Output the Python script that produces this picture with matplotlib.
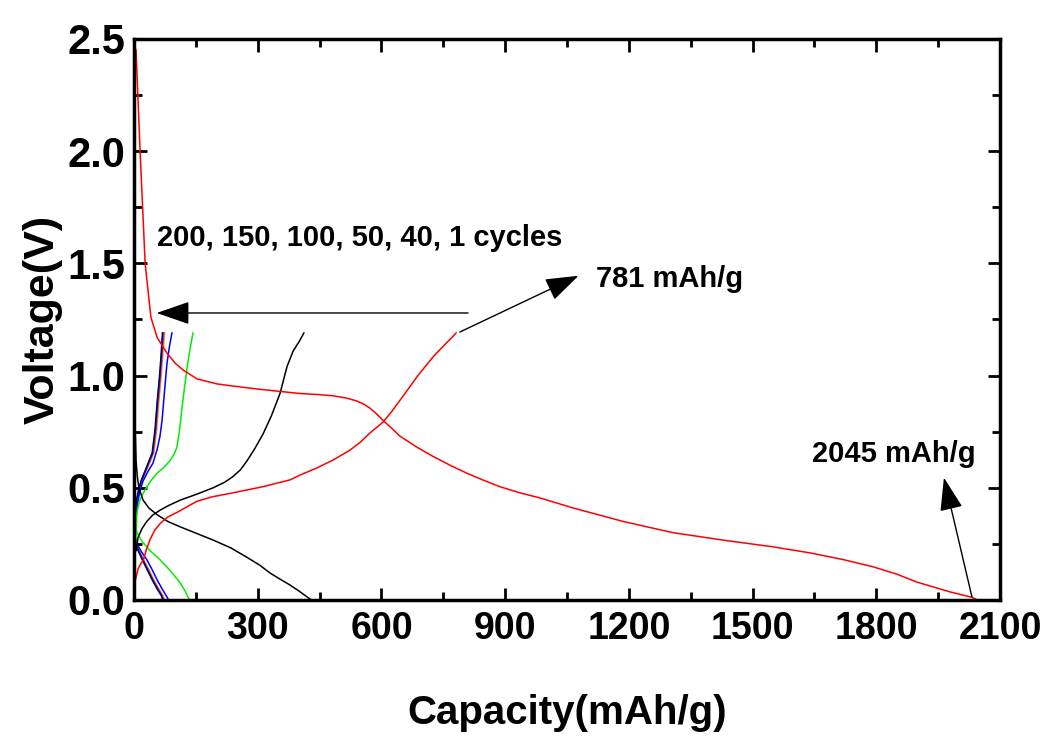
import matplotlib.pyplot as plt
from matplotlib.ticker import MultipleLocator

plt.rcParams["font.family"] = ["Liberation Sans", "DejaVu Sans"]
plt.rcParams["font.weight"] = "bold"

# cycle 1 (red)
c1_dis_x = [0, 5, 15, 27, 41, 56, 80, 100, 119, 153, 201, 233, 300, 403, 450, 483, 515, 540, 558,
            572, 588, 604, 625, 645, 685, 725, 767, 807, 847, 887, 935, 984, 1065, 1186, 1307,
            1428, 1549, 1639, 1720, 1792, 1850, 1898, 1979, 2032, 2045]
c1_dis_y = [2.47, 2.45, 1.99, 1.50, 1.26, 1.17, 1.10, 1.055, 1.025, 0.985, 0.963, 0.955, 0.94,
            0.92, 0.915, 0.91, 0.90, 0.887, 0.872, 0.855, 0.83, 0.80, 0.765, 0.73, 0.682, 0.64,
            0.60, 0.565, 0.534, 0.505, 0.478, 0.455, 0.41, 0.35, 0.30, 0.267, 0.237, 0.21, 0.18,
            0.148, 0.115, 0.08, 0.036, 0.012, 0.0]
c1_chg_x = [2, 5, 10, 16, 23, 30, 39, 50, 63, 82, 104, 128, 153, 190, 233, 273, 313, 345, 378,
            403, 443, 483, 524, 550, 572, 604, 625, 645, 666, 686, 706, 725, 744, 760, 772, 781]
c1_chg_y = [0.08, 0.10, 0.14, 0.16, 0.18, 0.225, 0.27, 0.31, 0.34, 0.37, 0.39, 0.415, 0.44,
            0.46, 0.475, 0.49, 0.505, 0.52, 0.535, 0.557, 0.588, 0.624, 0.668, 0.705, 0.744,
            0.793, 0.84, 0.89, 0.943, 0.994, 1.04, 1.083, 1.12, 1.15, 1.172, 1.19]

# cycle 40 (black)
c40_dis_x = [3, 5, 8, 12, 22, 36, 56, 82, 112, 150, 192, 235, 274, 305, 330, 355, 378, 400, 415, 430]
c40_dis_y = [0.75, 0.62, 0.55, 0.50, 0.445, 0.41, 0.38, 0.35, 0.326, 0.298, 0.267, 0.232, 0.19,
             0.155, 0.12, 0.092, 0.067, 0.04, 0.02, 0.0]
c40_chg_x = [5, 10, 20, 31, 45, 63, 85, 112, 150, 192, 220, 240, 258, 274, 293, 313, 333, 354,
             371, 386, 400, 412]
c40_chg_y = [0.22, 0.28, 0.32, 0.35, 0.378, 0.40, 0.422, 0.445, 0.47, 0.50, 0.525, 0.55, 0.58,
             0.62, 0.675, 0.74, 0.82, 0.92, 1.04, 1.11, 1.15, 1.19]

# cycle 50 (green)
c50_dis_x = [5, 7, 20, 39, 60, 80, 97, 112, 124, 131, 136]
c50_dis_y = [0.32, 0.30, 0.26, 0.22, 0.185, 0.147, 0.11, 0.076, 0.04, 0.013, 0.0]
c50_chg_x = [3, 4, 5, 7, 13, 22, 38, 56, 72, 87, 97, 104, 110, 116, 122, 128, 135, 143]
c50_chg_y = [0.22, 0.26, 0.30, 0.39, 0.44, 0.475, 0.525, 0.565, 0.59, 0.62, 0.65, 0.68, 0.75,
             0.85, 0.94, 1.025, 1.11, 1.19]

# cycle 100 (blue)
c100_dis_x = [3, 7, 18, 31, 44, 56, 68, 80, 84]
c100_dis_y = [0.28, 0.25, 0.215, 0.18, 0.135, 0.09, 0.05, 0.013, 0.0]
c100_chg_x = [2, 5, 10, 16, 22, 33, 46, 56, 63, 68, 74, 80, 86, 92]
c100_chg_y = [0.28, 0.37, 0.445, 0.495, 0.53, 0.57, 0.61, 0.67, 0.73, 0.80, 0.93, 1.055, 1.13, 1.19]

# later cycles (bundle near 70 mAh/g)
c125_dis_x = [2, 8, 23, 36, 48, 60, 70, 74]
c125_dis_y = [0.27, 0.236, 0.18, 0.135, 0.09, 0.05, 0.02, 0.0]
c125_chg_x = [1, 3, 8, 14, 20, 34, 48, 55, 60, 66, 70, 74]
c125_chg_y = [0.25, 0.325, 0.445, 0.50, 0.535, 0.595, 0.655, 0.76, 0.88, 1.0, 1.10, 1.19]

c150_dis_x = [2, 7, 22, 34, 46, 58, 68, 72]
c150_dis_y = [0.27, 0.236, 0.18, 0.135, 0.09, 0.05, 0.02, 0.0]
c150_chg_x = [1, 2, 7, 13, 19, 33, 46, 53, 58, 64, 68, 72]
c150_chg_y = [0.25, 0.325, 0.445, 0.50, 0.535, 0.595, 0.655, 0.76, 0.88, 1.0, 1.10, 1.19]

c175_dis_x = [2, 7, 21, 33, 45, 57, 67, 71]
c175_dis_y = [0.27, 0.236, 0.18, 0.135, 0.09, 0.05, 0.02, 0.0]
c175_chg_x = [1, 2, 7, 13, 19, 32, 45, 52, 57, 63, 67, 70]
c175_chg_y = [0.25, 0.325, 0.445, 0.50, 0.535, 0.595, 0.655, 0.76, 0.88, 1.0, 1.10, 1.19]

c200_dis_x = [2, 6, 20, 32, 44, 56, 66, 70]
c200_dis_y = [0.27, 0.236, 0.18, 0.135, 0.09, 0.05, 0.02, 0.0]
c200_chg_x = [1, 2, 6, 12, 18, 31, 44, 51, 56, 62, 66, 69]
c200_chg_y = [0.25, 0.325, 0.445, 0.50, 0.535, 0.595, 0.655, 0.76, 0.88, 1.0, 1.10, 1.19]

fig = plt.figure(figsize=(10.51, 7.37), dpi=100)
ax = fig.add_axes([0.1275, 0.1859, 0.824, 0.7612])

lw = 1.1
curves = [
    (c125_dis_x, c125_dis_y, c125_chg_x, c125_chg_y, "#ff8c00"),
    (c150_dis_x, c150_dis_y, c150_chg_x, c150_chg_y, "#ff00ff"),
    (c175_dis_x, c175_dis_y, c175_chg_x, c175_chg_y, "#006400"),
    (c200_dis_x, c200_dis_y, c200_chg_x, c200_chg_y, "#000080"),
    (c100_dis_x, c100_dis_y, c100_chg_x, c100_chg_y, "#0000ff"),
    (c50_dis_x, c50_dis_y, c50_chg_x, c50_chg_y, "#00ee00"),
    (c40_dis_x, c40_dis_y, c40_chg_x, c40_chg_y, "#000000"),
    (c1_dis_x, c1_dis_y, c1_chg_x, c1_chg_y, "#ff0000"),
]
for dx, dy, cx, cy, col in curves:
    ax.plot(dx, dy, color=col, lw=lw)
    ax.plot(cx, cy, color=col, lw=lw)

ax.set_xlim(0, 2100)
ax.set_ylim(0, 2.5)
ax.xaxis.set_major_locator(MultipleLocator(300))
ax.xaxis.set_minor_locator(MultipleLocator(150))
ax.yaxis.set_major_locator(MultipleLocator(0.5))
ax.yaxis.set_minor_locator(MultipleLocator(0.25))
ax.yaxis.set_major_formatter(plt.FormatStrFormatter("%.1f"))
ax.tick_params(which="both", direction="in", top=True, right=True, width=2)
ax.tick_params(which="major", length=9)
ax.tick_params(which="minor", length=6)
ax.tick_params(axis="y", which="major", labelsize=30, pad=6)
ax.tick_params(axis="x", which="major", labelsize=27, pad=8)
for s in ax.spines.values():
    s.set_linewidth(2.5)

ax.set_xlabel("Capacity(mAh/g)", fontsize=29, fontweight="bold", labelpad=34)
ax.set_ylabel("Voltage(V)", fontsize=31, fontweight="bold", labelpad=4)

ax.text(55, 1.615, "200, 150, 100, 50, 40, 1 cycles", fontsize=21, fontweight="bold",
        va="center", ha="left")
ax.annotate("", xy=(55, 1.279), xytext=(810, 1.279),
            arrowprops=dict(arrowstyle="-|>,head_length=1.3,head_width=0.45", color="black",
                            lw=1.0, mutation_scale=16, shrinkA=0, shrinkB=0))

ax.text(1120, 1.43, "781 mAh/g", fontsize=21, fontweight="bold", va="center", ha="left")
ax.annotate("", xy=(1078, 1.445), xytext=(790, 1.194),
            arrowprops=dict(arrowstyle="-|>,head_length=1.3,head_width=0.45", color="black",
                            lw=1.0, mutation_scale=16, shrinkA=0, shrinkB=0))

ax.text(1645, 0.65, "2045 mAh/g", fontsize=21, fontweight="bold", va="center", ha="left")
ax.annotate("", xy=(1964, 0.545), xytext=(2032, 0.013),
            arrowprops=dict(arrowstyle="-|>,head_length=1.3,head_width=0.45", color="black",
                            lw=1.0, mutation_scale=16, shrinkA=0, shrinkB=0))

fig.savefig("out.png", dpi=100)
